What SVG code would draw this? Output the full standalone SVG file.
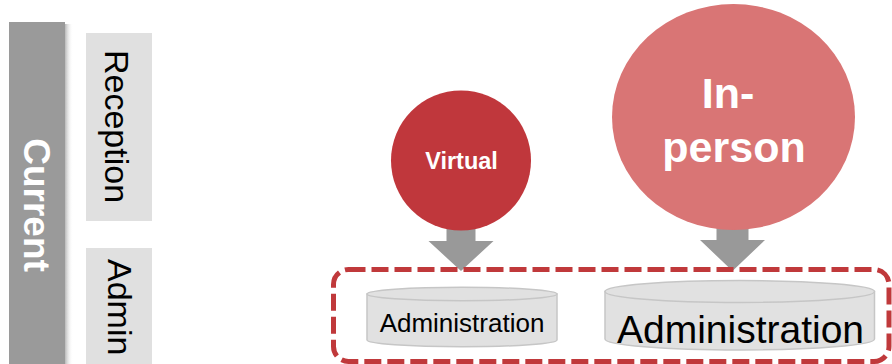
<svg xmlns="http://www.w3.org/2000/svg" width="892" height="364" viewBox="0 0 892 364">
  <defs>
    <linearGradient id="shadow" x1="0" y1="0" x2="1" y2="0">
      <stop offset="0" stop-color="#9a9a9a" stop-opacity="0.7"/>
      <stop offset="1" stop-color="#ffffff" stop-opacity="0"/>
    </linearGradient>
  </defs>
  <style>
    .lbl { font-family: "Liberation Sans", Arial, sans-serif; }
    .side { fill: #e0e0e0; }
    .sideTxt { font-size: 34px; fill: #000000; }
    .bubbleTxt { font-weight: bold; fill: #ffffff; text-anchor: middle; }
    .cyl { fill: #e1e1e1; stroke: #c6c6c6; stroke-width: 1.5; }
    .cylTxt { fill: #000000; text-anchor: middle; }
    .arrow { fill: #999999; }
    .dash { fill: none; stroke: #c0393b; stroke-width: 5; stroke-dasharray: 17 6; }
  </style>

  <g id="current">
    <rect x="65" y="24" width="8" height="340" fill="url(#shadow)"/>
    <rect x="9" y="22" width="56" height="342" fill="#9a9a9a"/>
    <text class="lbl" transform="translate(24,205) rotate(90)" text-anchor="middle" font-size="37" font-weight="bold" fill="#ffffff">Current</text>
  </g>

  <g id="reception">
    <rect class="side" x="86" y="33" width="66" height="188"/>
    <text class="lbl sideTxt" transform="translate(104.5,126.5) rotate(90)" text-anchor="middle">Reception</text>
  </g>

  <g id="admin">
    <rect class="side" x="86" y="248" width="66" height="116"/>
    <text class="lbl sideTxt" transform="translate(107.5,259) rotate(90)" text-anchor="start">Admin</text>
  </g>

  <g id="connectors">
    <path class="arrow" d="M446.5,226 H475.5 V241 H493.5 L461,271 L428.5,241 H446.5 Z"/>
    <path class="arrow" d="M716.5,226 H748.5 V240 H765 L732.5,271 L700,240 H716.5 Z"/>
  </g>

  <g id="virtual">
    <circle cx="461" cy="160.5" r="70" fill="#c0373c"/>
    <text class="lbl bubbleTxt" x="461.5" y="169" font-size="23.5">Virtual</text>
  </g>

  <g id="in-person">
    <ellipse cx="733.5" cy="117" rx="121.5" ry="113" fill="#d97575"/>
    <text class="lbl bubbleTxt" font-size="43">
      <tspan x="734" y="108">In-</tspan>
      <tspan x="734" y="162">person</tspan>
    </text>
  </g>

  <g id="admin-virtual">
    <path class="cyl" d="M367,294 V340 A95,6.7 0 0 0 557,340 V294 Z"/>
    <ellipse class="cyl" cx="462" cy="294" rx="95" ry="6.7"/>
    <text class="lbl cylTxt" x="462" y="332" font-size="26">Administration</text>
  </g>

  <g id="admin-inperson">
    <path class="cyl" d="M605,291.5 V339 A134.75,11 0 0 0 874.5,339 V291.5 Z"/>
    <ellipse class="cyl" cx="739.75" cy="291.5" rx="134.75" ry="11"/>
    <text class="lbl cylTxt" x="740.5" y="342.5" font-size="39">Administration</text>
  </g>

  <g id="group-box">
    <rect class="dash" x="333.5" y="269.5" width="555.5" height="92" rx="15" ry="15"/>
  </g>
</svg>
